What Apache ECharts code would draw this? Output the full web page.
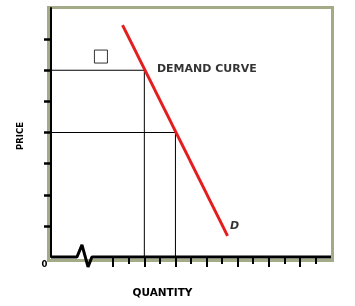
<!DOCTYPE html>
<html><head><meta charset="utf-8">
<script src="https://cdn.jsdelivr.net/npm/echarts@6/dist/echarts.min.js"></script>
<style>html,body{margin:0;padding:0;background:#fff}#c{width:355px;height:306px}</style>
</head><body><div id="c"></div>
<script>
// ---- data ----
const yTicks = [1, 2, 3, 4, 5, 6, 7];
const xMajorTicks = [4, 6, 8, 10, 12, 14, 16];
const xMinorTicks = [5, 7, 9, 11, 13, 15, 17];
const demandCurve = [[4.6, 7.45], [11.35, 0.68]];
const guideHigh = [[0, 6], [6, 6], [6, 0]];
const guideLow = [[0, 4], [8, 4], [8, 0]];
const boxMarker = [[3.21, 6.44]];
const xAxisWithBreak = [[0, 0], [1.67, 0], [1.99, 0.39], [2.38, -0.32], [2.63, 0], [18, 0]];
const curveTitle = [[6.81, 6.02, 'DEMAND CURVE']];
const curveTag = [[11.5, 1.0, 'D']];
const xTitle = 'QUANTITY';
const yTitle = 'PRICE';
const originLabel = '0';

const FONT = '"DejaVu Sans", Verdana, sans-serif';
const chart = echarts.init(document.getElementById('c'), null, {renderer: 'canvas'});

const baseX = {type: 'value', min: 0, max: 18, gridIndex: 0, position: 'bottom', offset: 0,
  splitLine: {show: false}, axisLabel: {show: false}, axisLine: {show: false}};

function textSeries(data, italic) {
  return {type: 'scatter', data: data, symbolSize: 0, z: 7, silent: true,
    label: {show: true, position: 'right', distance: 0, color: '#000',
      fontFamily: FONT, fontWeight: 'bold', fontSize: 11,
      fontStyle: italic ? 'italic' : 'normal',
      formatter: p => p.value[2]}};
}

chart.setOption({
  animation: false,
  backgroundColor: '#fff',
  grid: {left: 51, top: 8, right: 24, bottom: 49},
  xAxis: [
    Object.assign({}, baseX, {axisTick: {show: true, customValues: xMajorTicks, length: 10, lineStyle: {color: '#000', width: 2}}}),
    Object.assign({}, baseX, {axisTick: {show: true, customValues: xMinorTicks, length: 7, lineStyle: {color: '#000', width: 2}}})
  ],
  yAxis: {type: 'value', min: 0, max: 8, interval: 1,
    splitLine: {show: false}, axisLabel: {show: false},
    axisLine: {show: true, lineStyle: {color: '#000', width: 2}},
    axisTick: {show: true, customValues: yTicks, length: 7, lineStyle: {color: '#000', width: 2.5}}},
  graphic: [
    {type: 'rect', z: -10, shape: {x: 48.5, y: 7.5, width: 284, height: 253},
      style: {fill: 'none', stroke: '#a2ab86', lineWidth: 3}},
    {type: 'text', x: 21, y: 136, rotation: Math.PI / 2,
      style: {text: yTitle, align: 'center', verticalAlign: 'middle', font: 'bold 8.5px ' + FONT, fill: '#000'}},
    {type: 'text', x: 162.5, y: 293.5,
      style: {text: xTitle, align: 'center', verticalAlign: 'middle', font: 'bold 10.5px ' + FONT, fill: '#000'}},
    {type: 'text', x: 44.5, y: 265,
      style: {text: originLabel, align: 'center', verticalAlign: 'middle', font: 'bold 8.5px ' + FONT, fill: '#000'}}
  ],
  series: [
    {type: 'line', data: xAxisWithBreak, clip: false, symbol: 'none', z: 5,
      lineStyle: {color: '#000', width: 3}},
    {type: 'line', data: guideHigh, symbol: 'none', z: 3, lineStyle: {color: '#000', width: 1}},
    {type: 'line', data: guideLow, symbol: 'none', z: 3, lineStyle: {color: '#000', width: 1}},
    {type: 'line', data: demandCurve, symbol: 'none', z: 6, lineStyle: {color: '#e41e1e', width: 3}},
    {type: 'scatter', data: boxMarker, symbol: 'rect', symbolSize: 13, z: 4,
      itemStyle: {color: '#fff', borderColor: '#000', borderWidth: 1}},
    textSeries(curveTitle, false),
    textSeries(curveTag, true)
  ]
});
</script></body></html>
